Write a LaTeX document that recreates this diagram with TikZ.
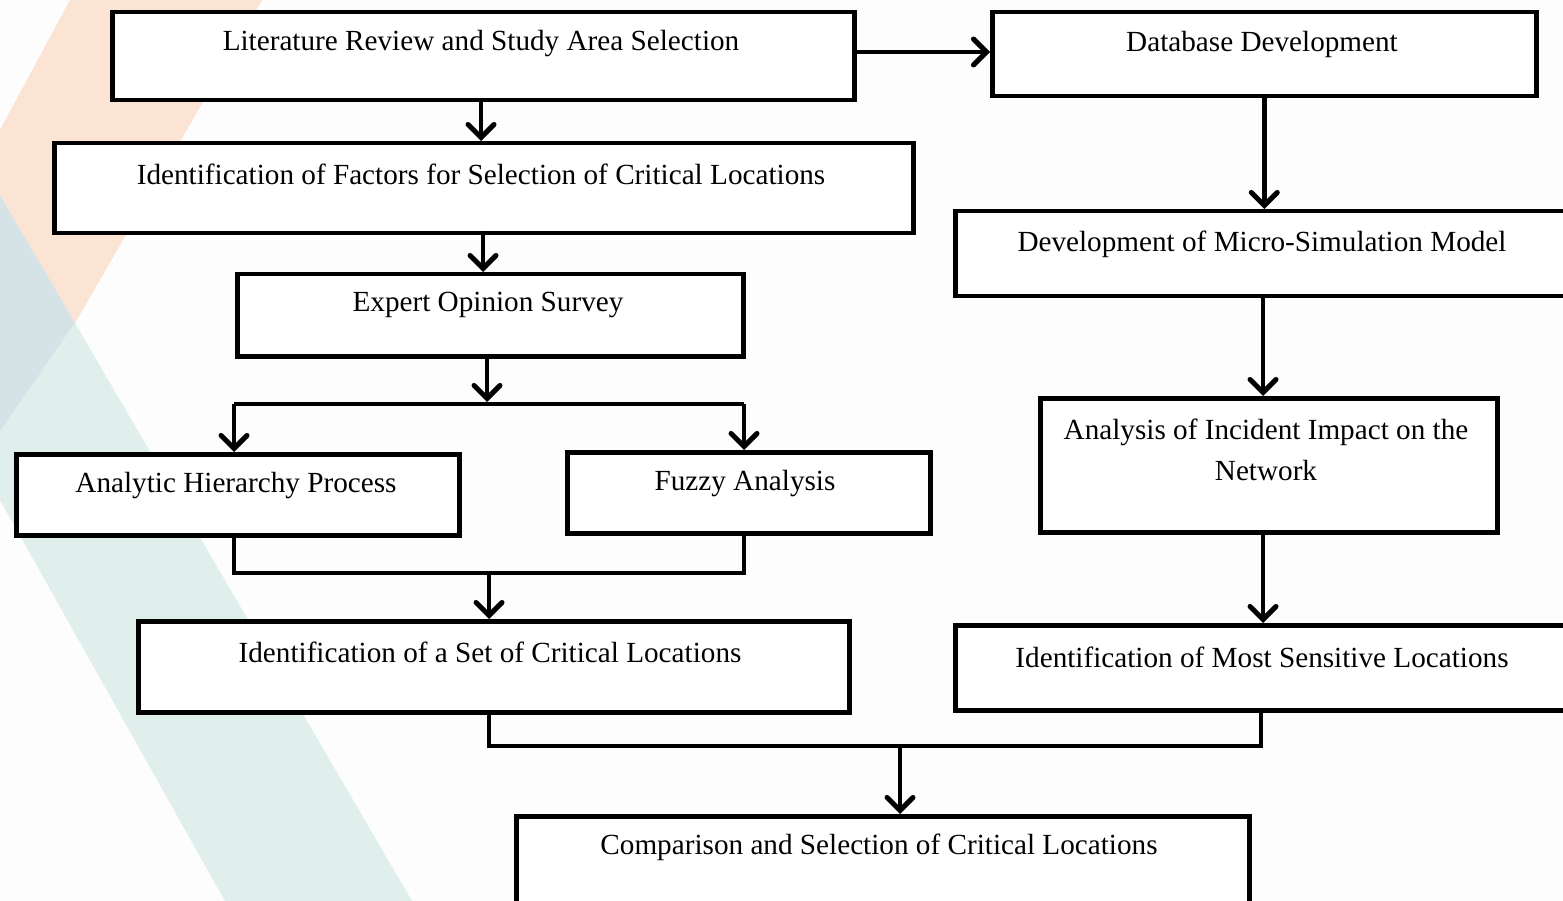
\documentclass[tikz,border=0pt]{standalone}
\usepackage{fontspec}
\setmainfont{Liberation Serif}
\usetikzlibrary{arrows.meta,calc}
\definecolor{peach}{HTML}{FCE4D4}
\definecolor{bluegrey}{HTML}{D5E3E7}
\definecolor{teal}{HTML}{E0EEEC}
\definecolor{bgwhite}{HTML}{FDFDFD}
\tikzset{
  box/.style={draw=black, line width=4.5pt, fill=white, anchor=north west, inner sep=0pt},
  txt/.style={font=\fontsize{29.2}{41}\selectfont, inner sep=0pt, anchor=center, align=center},
  conn/.style={line width=4.5pt, draw=black},
  arr/.style={conn, -{Straight Barb[length=13pt,width=26pt,line width=5pt,line cap=round]}},
}
\begin{document}
\begin{tikzpicture}[x=1pt,y=-1pt]
\useasboundingbox (0,0) rectangle (1563,901);
\clip (0,0) rectangle (1563,901);
\fill[bgwhite] (0,0) rectangle (1563,901);
% background shapes
\fill[peach] (70,0) -- (262,0) -- (75,323) -- (0,195) -- (0,130) -- cycle;
\fill[bluegrey] (0,195) -- (75,323) -- (0,432) -- cycle;
\fill[teal] (75,323) -- (412,901) -- (225,901) -- (0,500) -- (0,432) -- cycle;

% boxes
\node[box, minimum width=742pt, minimum height=88pt] (lit) at (110,10) {};
\node[box, minimum width=544pt, minimum height=84pt] (db) at (990,10) {};
\node[box, minimum width=859pt, minimum height=90pt] (fac) at (52,141) {};
\node[box, minimum width=620pt, minimum height=85pt] (mic) at (953,209) {};
\node[box, minimum width=506pt, minimum height=82pt] (exp) at (235,272) {};
\node[box, minimum width=457pt, minimum height=134pt] (ana) at (1038,396) {};
\node[box, minimum width=443pt, minimum height=81pt] (ahp) at (14,452) {};
\node[box, minimum width=363pt, minimum height=81pt] (fuz) at (565,450) {};
\node[box, minimum width=711pt, minimum height=91pt] (set) at (136,619) {};
\node[box, minimum width=620pt, minimum height=85pt] (sen) at (953,623) {};
\node[box, minimum width=733pt, minimum height=100pt] (cmp) at (514,814) {};

% texts
\node[txt] (litT) at (481,44) {Literature Review and Study Area Selection};
\node[txt] (dbT) at (1262,44) {Database Development};
\node[txt] (facT) at (481,174) {Identification of Factors for Selection of Critical Locations};
\node[txt] (micT) at (1262,244) {Development of Micro-Simulation Model};
\node[txt] (expT) at (488,305) {Expert Opinion Survey};
\node[txt] (anaT) at (1266,450) {Analysis of Incident Impact on the\\Network};
\node[txt] (ahpT) at (236,486) {Analytic Hierarchy Process};
\node[txt] (fuzT) at (745,484) {Fuzzy Analysis};
\node[txt] (setT) at (490,652) {Identification of a Set of Critical Locations};
\node[txt] (senT) at (1262,657) {Identification of Most Sensitive Locations};
\node[txt] (cmpT) at (879,847) {Comparison and Selection of Critical Locations};

% junction coordinates
\coordinate (jm) at (487,404);
\coordinate (jl) at (234,404);
\coordinate (jr) at (744,404);
\coordinate (bl) at (234,573);
\coordinate (br) at (744,573);
\coordinate (bm) at (489,573);
\coordinate (cl) at (489,746);
\coordinate (cr) at (1261,746);
\coordinate (cm) at (900,746);

% connectors
\draw[arr] (481,98) -- (481,141);
\draw[arr] (lit.east |- 0,52) -- (db.west |- 0,52);
\draw[arr] (db.south) -- (mic.north -| db.south);
\draw[arr] (483,231) -- (483,272);
\draw[conn] (jl) -- (jr);
\draw[arr] (jm |- exp.south) -- ($(jm)+(0,-2)$);
\draw[arr] (jl) -- (jl |- ahp.north);
\draw[arr] (jr) -- (jr |- fuz.north);
\draw[conn] (bl |- ahp.south) -- (bl) -- (br) -- (br |- fuz.south);
\draw[arr] (bm) -- (bm |- set.north);
\draw[arr] (mic.south -| 1263,0) -- (ana.north -| 1263,0);
\draw[arr] (ana.south -| 1263,0) -- (sen.north -| 1263,0);
\draw[conn] (cl |- set.south) -- (cl) -- (cr) -- (cr |- sen.south);
\draw[arr] (cm) -- (cm |- cmp.north);
\end{tikzpicture}
\end{document}
